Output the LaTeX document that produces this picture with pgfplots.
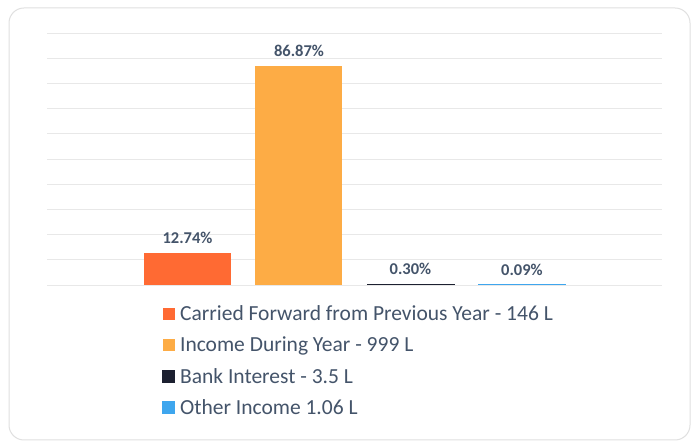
\documentclass[border=0pt]{standalone}
\usepackage{pgfplots}
\pgfplotsset{compat=1.18}
\usepackage{fontspec}
\setmainfont{Carlito}

\definecolor{cfwd}{HTML}{FF6A33}
\definecolor{incyr}{HTML}{FDAC45}
\definecolor{bank}{HTML}{1C2030}
\definecolor{other}{HTML}{3EA6EE}
\definecolor{txt}{HTML}{44546A}
\definecolor{gridc}{HTML}{E8E8E8}

\begin{document}
\begin{tikzpicture}
\useasboundingbox (0,0) rectangle (695pt,443pt);
\fill[white] (0,0) rectangle (695pt,443pt);
% card outline
\draw[black!12, line width=1pt, rounded corners=15pt] (9pt,3pt) rectangle (690pt,435pt);

\begin{axis}[
    at={(47pt,158pt)}, anchor=south west,
    scale only axis,
    width=615pt, height=252pt,
    xmin=-1.26, xmax=4.256,
    ymin=0, ymax=100,
    ytick={0,10,...,100},
    yticklabels={},
    xtick=\empty,
    major tick length=0pt,
    ymajorgrids=true,
    grid style={gridc, line width=0.9pt},
    axis line style={draw=none},
    ybar, bar width=87pt, bar shift=0pt,
    nodes near coords={\pgfmathprintnumber[fixed, fixed zerofill, precision=2, assume math mode=true]{\pgfplotspointmeta}\%},
    every node near coord/.append style={anchor=south, inner sep=0pt, yshift=9pt,
        font=\fontsize{16.5}{19}\selectfont\bfseries, text=txt},
    legend style={at={(0.187,-0.08)}, anchor=north west, draw=none, fill=none,
        font=\fontsize{21.5}{25}\selectfont, text=txt,
        row sep=15pt, inner sep=0pt,
        nodes={inner sep=0pt, anchor=west},
        /tikz/every odd column/.append style={column sep=5pt}},
    legend cell align=left,
    legend image code/.code={\fill[#1] (0pt,-6pt) rectangle (12pt,6pt);},
]
\addplot[fill=cfwd, draw=none] coordinates {(0,12.74)};
\addplot[fill=incyr, draw=none] coordinates {(1,86.87)};
\addplot[fill=bank, draw=bank, line width=0.9pt] coordinates {(2,0.30)};
\addplot[fill=other, draw=other, line width=0.6pt] coordinates {(3,0.09)};
\legend{Carried Forward from Previous Year - 146 L,
        Income During Year - 999 L,
        Bank Interest - 3.5 L,
        Other Income 1.06 L}
\end{axis}
\end{tikzpicture}
\end{document}
